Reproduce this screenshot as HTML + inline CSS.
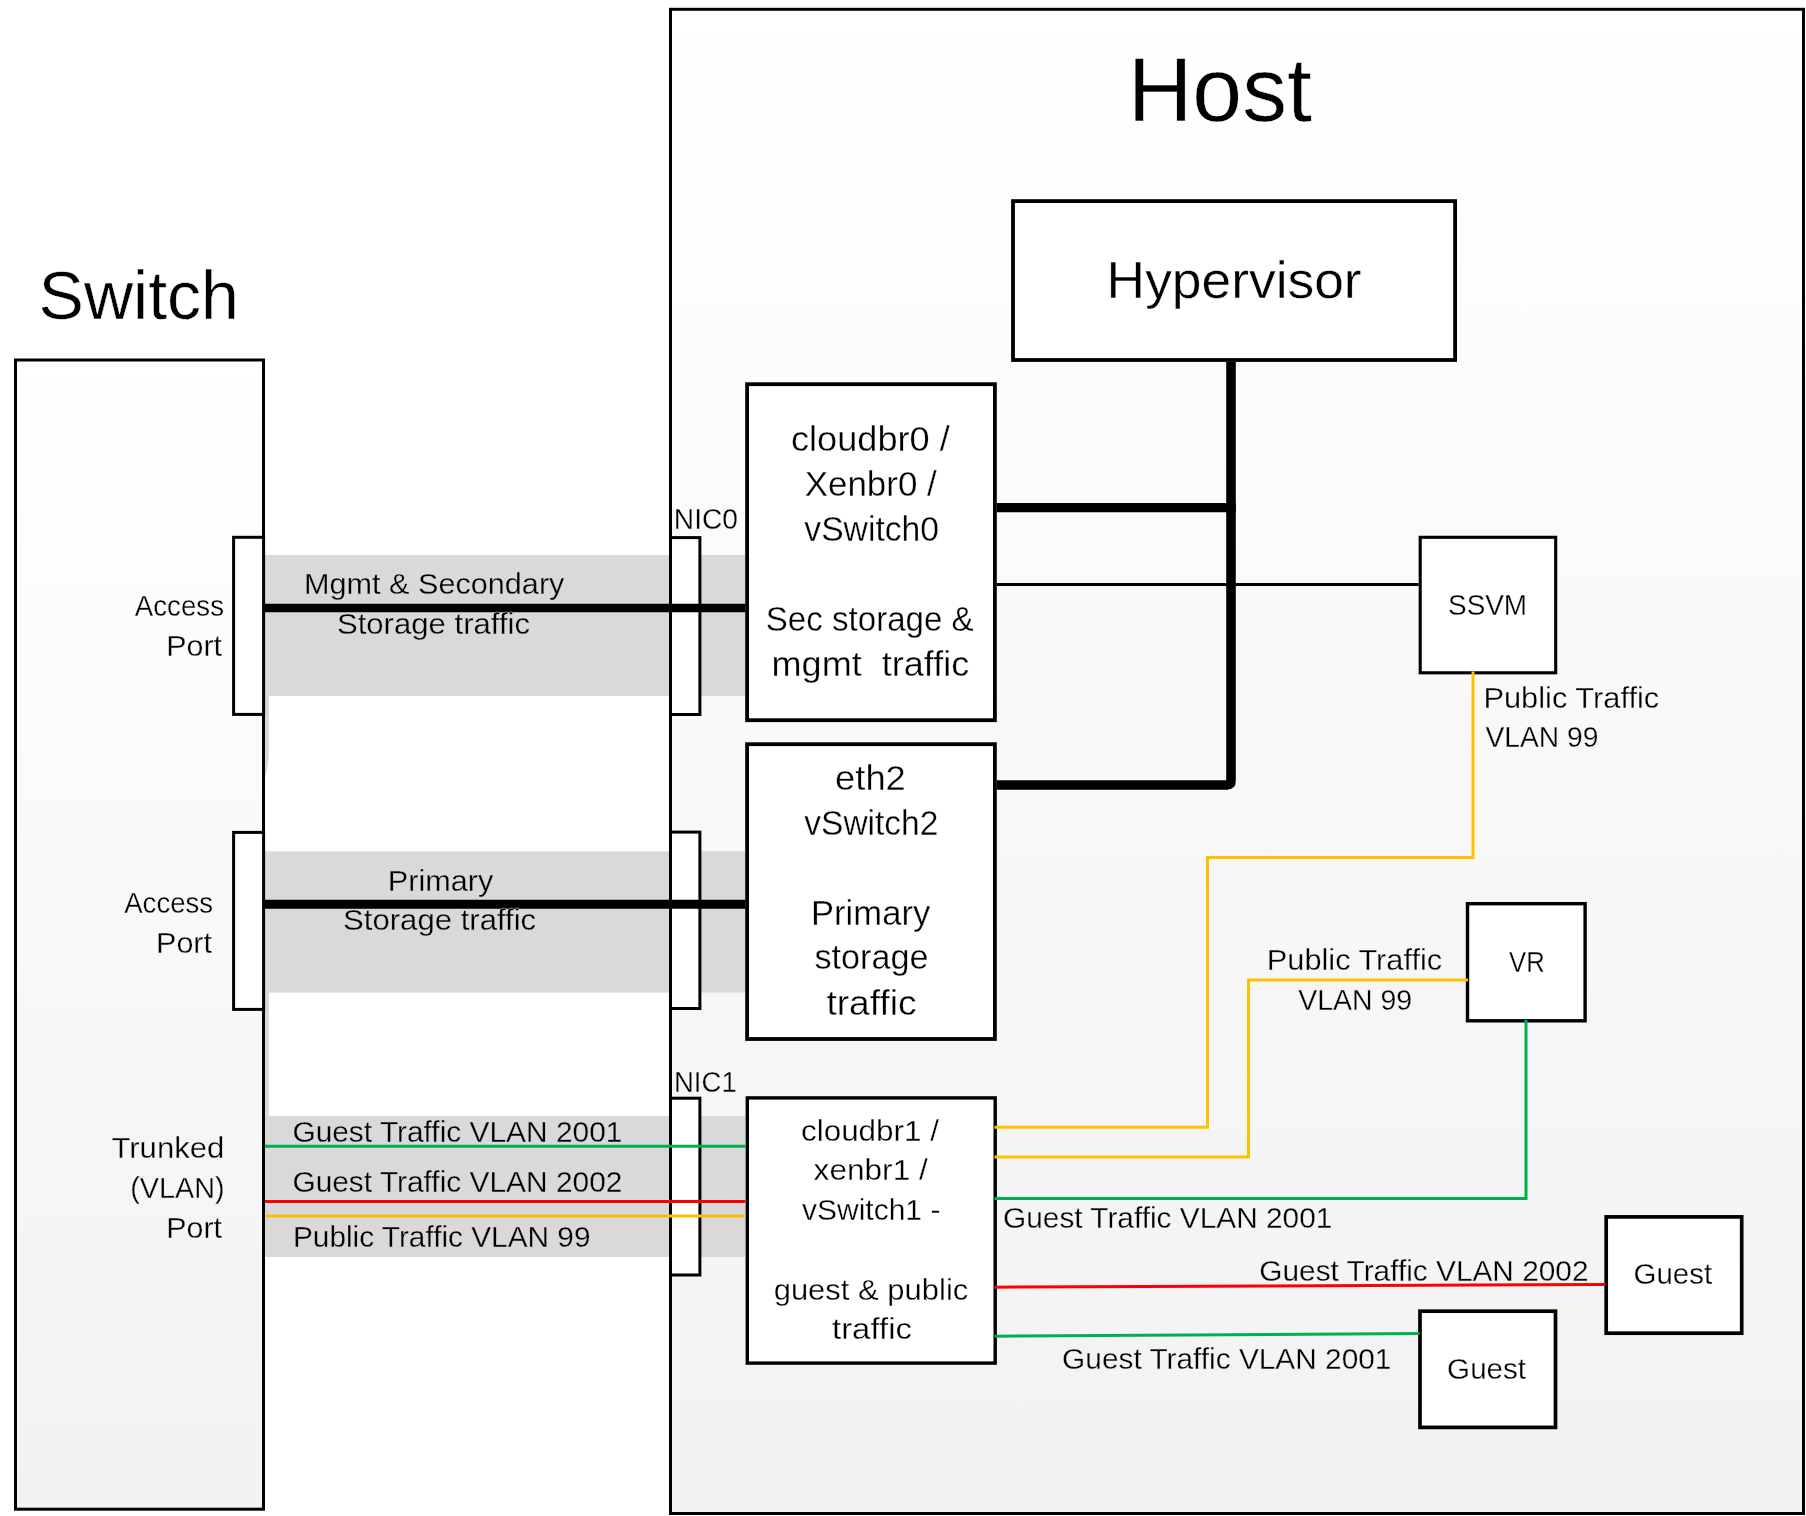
<!DOCTYPE html>
<html><head><meta charset="utf-8"><title>Host Switch diagram</title>
<style>html,body{margin:0;padding:0;background:#fff;width:1806px;height:1516px;overflow:hidden}svg{display:block;will-change:transform}</style>
</head><body>
<svg width="1806" height="1516" viewBox="0 0 1806 1516">
<defs>
<linearGradient id="gs" x1="0" y1="0" x2="0" y2="1"><stop offset="0" stop-color="#ffffff"/><stop offset="1" stop-color="#f2f2f2"/></linearGradient>
<linearGradient id="gh" x1="0" y1="0" x2="0" y2="1"><stop offset="0" stop-color="#ffffff"/><stop offset="1" stop-color="#f2f2f2"/></linearGradient>
</defs>
<rect x="0" y="0" width="1806" height="1516" fill="#fff"/>
<!-- switch -->
<rect x="15.5" y="360" width="248" height="1149.2" fill="url(#gs)" stroke="#000" stroke-width="3"/>
<!-- host -->
<rect x="670.5" y="9.3" width="1133" height="1504.2" fill="url(#gh)" stroke="#000" stroke-width="3"/>
<!-- gray bands -->
<g fill="#d9d9d9">
<rect x="265" y="555" width="480" height="141"/>
<rect x="265" y="851.3" width="480" height="141.3"/>
<rect x="265" y="1116" width="480" height="141"/>
</g>
<path d="M265 696 H269 V752 Q269 765 265 777 Z" fill="#d9d9d9"/>
<rect x="265" y="992" width="4" height="125" fill="#d9d9d9"/>
<!-- ports -->
<g fill="#fff" stroke="#000" stroke-width="3">
<rect x="233.6" y="537.3" width="30" height="177.1"/>
<rect x="233.6" y="832.4" width="30" height="177"/>
<rect x="670.5" y="537.6" width="29.4" height="176.9"/>
<rect x="670.5" y="832.1" width="29.4" height="176.4"/>
<rect x="670.5" y="1098.2" width="29.4" height="176.8"/>
</g>
<!-- boxes -->
<g fill="#fff" stroke="#000">
<rect x="1013" y="201.1" width="442.1" height="158.9" stroke-width="3.8"/>
<rect x="747.1" y="384.2" width="247.8" height="336" stroke-width="3.8"/>
<rect x="747.1" y="744.2" width="247.8" height="294.8" stroke-width="3.8"/>
<rect x="747.3" y="1097.9" width="247.9" height="265.2" stroke-width="3.4"/>
<rect x="1420.2" y="537.3" width="135.5" height="135.5" stroke-width="3.1"/>
<rect x="1467.5" y="903.7" width="117.6" height="117.1" stroke-width="3.4"/>
<rect x="1606.2" y="1216.9" width="135.5" height="116.3" stroke-width="3.7"/>
<rect x="1420" y="1311.2" width="135.5" height="116.2" stroke-width="3.7"/>
</g>
<!-- black connectors -->
<g stroke="#000" fill="none">
<path d="M996.8 785 H1228" stroke-width="9.3" />
<path d="M996.8 507.7 H1235.8" stroke-width="9.2"/>
<path d="M996.8 584.4 H1418.7" stroke-width="3"/>
<path d="M265 608 H745.5" stroke-width="8.6"/>
<path d="M265 904.3 H745.5" stroke-width="9"/>
</g>
<path d="M1226.2 362 H1235.8 V781 Q1235.8 789.6 1227 789.6 H1226.2 Z" fill="#000"/>
<!-- colored -->
<g fill="none" stroke-width="3" stroke-linejoin="miter">
<path d="M265 1146.3 H745.5" stroke="#00b050"/>
<path d="M265 1201.5 H745.5" stroke="#ff0000"/>
<path d="M265 1215.9 H745.5" stroke="#ffc000"/>
<path d="M994.5 1127.2 H1207.5 V857.5 H1473 V671.5" stroke="#ffc000"/>
<path d="M994.5 1157.1 H1248.5 V980 H1468" stroke="#ffc000"/>
<path d="M994.5 1198.4 H1526 V1020" stroke="#00b050"/>
<path d="M994.5 1287.2 L1605.5 1284.5" stroke="#ff0000"/>
<path d="M994.5 1336.2 L1419.5 1333.5" stroke="#00b050"/>
</g>
<g font-family="Liberation Sans" fill="#000">
<text x="1127.69" y="120.90" font-size="91.73" textLength="184.09" lengthAdjust="spacingAndGlyphs" stroke="#fefefe" stroke-width="0.52">Host</text>
<text x="38.55" y="318.80" font-size="69.26" textLength="200.34" lengthAdjust="spacingAndGlyphs" stroke="#fff" stroke-width="0.46">Switch</text>
<text x="1106.63" y="297.70" font-size="52.42" textLength="255.03" lengthAdjust="spacingAndGlyphs" stroke="#fff" stroke-width="0.40">Hypervisor</text>
<text x="673.82" y="528.90" font-size="29.95" textLength="64.13" lengthAdjust="spacingAndGlyphs" stroke="#fbfbfb" stroke-width="0.30">NIC0</text>
<text x="673.96" y="1091.90" font-size="29.95" textLength="62.76" lengthAdjust="spacingAndGlyphs" stroke="#f6f6f6" stroke-width="0.30">NIC1</text>
<text x="134.80" y="615.60" font-size="29.95" textLength="89.19" lengthAdjust="spacingAndGlyphs" stroke="#fcfcfc" stroke-width="0.30">Access</text>
<text x="166.16" y="655.60" font-size="29.95" textLength="55.94" lengthAdjust="spacingAndGlyphs" stroke="#fcfcfc" stroke-width="0.30">Port</text>
<text x="124.20" y="913.00" font-size="29.95" textLength="88.98" lengthAdjust="spacingAndGlyphs" stroke="#f9f9f9" stroke-width="0.30">Access</text>
<text x="156.06" y="953.10" font-size="29.95" textLength="55.94" lengthAdjust="spacingAndGlyphs" stroke="#f8f8f8" stroke-width="0.30">Port</text>
<text x="111.46" y="1157.90" font-size="29.95" textLength="112.82" lengthAdjust="spacingAndGlyphs" stroke="#f6f6f6" stroke-width="0.30">Trunked</text>
<text x="130.18" y="1198.30" font-size="29.95" textLength="94.40" lengthAdjust="spacingAndGlyphs" stroke="#f6f6f6" stroke-width="0.30">(VLAN)</text>
<text x="166.17" y="1237.70" font-size="29.95" textLength="55.84" lengthAdjust="spacingAndGlyphs" stroke="#f5f5f5" stroke-width="0.30">Port</text>
<text x="304.05" y="594.20" font-size="29.95" textLength="260.34" lengthAdjust="spacingAndGlyphs" stroke="#d9d9d9" stroke-width="0.30">Mgmt &amp; Secondary</text>
<text x="336.92" y="634.30" font-size="29.95" textLength="193.14" lengthAdjust="spacingAndGlyphs" stroke="#d9d9d9" stroke-width="0.30">Storage traffic</text>
<text x="387.86" y="890.60" font-size="29.95" textLength="105.37" lengthAdjust="spacingAndGlyphs" stroke="#d9d9d9" stroke-width="0.30">Primary</text>
<text x="343.02" y="930.10" font-size="29.95" textLength="193.14" lengthAdjust="spacingAndGlyphs" stroke="#d9d9d9" stroke-width="0.30">Storage traffic</text>
<text x="292.40" y="1142.30" font-size="29.95" textLength="330.00" lengthAdjust="spacingAndGlyphs" stroke="#d9d9d9" stroke-width="0.30">Guest Traffic VLAN 2001</text>
<text x="292.40" y="1192.10" font-size="29.95" textLength="330.00" lengthAdjust="spacingAndGlyphs" stroke="#d9d9d9" stroke-width="0.30">Guest Traffic VLAN 2002</text>
<text x="293.01" y="1246.90" font-size="29.95" textLength="297.45" lengthAdjust="spacingAndGlyphs" stroke="#d9d9d9" stroke-width="0.30">Public Traffic VLAN 99</text>
<text x="791.03" y="451.20" font-size="34.94" textLength="158.72" lengthAdjust="spacingAndGlyphs" stroke="#fff" stroke-width="0.32">cloudbr0 /</text>
<text x="804.80" y="496.30" font-size="34.94" textLength="131.88" lengthAdjust="spacingAndGlyphs" stroke="#fff" stroke-width="0.32">Xenbr0 /</text>
<text x="804.30" y="540.90" font-size="34.94" textLength="134.75" lengthAdjust="spacingAndGlyphs" stroke="#fff" stroke-width="0.32">vSwitch0</text>
<text x="765.81" y="631.20" font-size="34.94" textLength="207.82" lengthAdjust="spacingAndGlyphs" stroke="#fff" stroke-width="0.32">Sec storage &amp;</text>
<text x="771.54" y="676.00" font-size="34.94" textLength="197.73" lengthAdjust="spacingAndGlyphs" stroke="#fff" stroke-width="0.32">mgmt  traffic</text>
<text x="835.12" y="789.80" font-size="34.94" textLength="70.66" lengthAdjust="spacingAndGlyphs" stroke="#fff" stroke-width="0.32">eth2</text>
<text x="804.30" y="834.60" font-size="34.94" textLength="134.04" lengthAdjust="spacingAndGlyphs" stroke="#fff" stroke-width="0.32">vSwitch2</text>
<text x="811.03" y="925.30" font-size="34.94" textLength="119.21" lengthAdjust="spacingAndGlyphs" stroke="#fff" stroke-width="0.32">Primary</text>
<text x="814.52" y="969.40" font-size="34.94" textLength="113.89" lengthAdjust="spacingAndGlyphs" stroke="#fff" stroke-width="0.32">storage</text>
<text x="826.44" y="1014.70" font-size="34.94" textLength="90.11" lengthAdjust="spacingAndGlyphs" stroke="#fff" stroke-width="0.32">traffic</text>
<text x="800.95" y="1141.00" font-size="29.95" textLength="138.11" lengthAdjust="spacingAndGlyphs" stroke="#fff" stroke-width="0.30">cloudbr1 /</text>
<text x="813.64" y="1179.60" font-size="29.95" textLength="114.15" lengthAdjust="spacingAndGlyphs" stroke="#fff" stroke-width="0.30">xenbr1 /</text>
<text x="802.00" y="1219.50" font-size="29.95" textLength="138.40" lengthAdjust="spacingAndGlyphs" stroke="#fff" stroke-width="0.30">vSwitch1 -</text>
<text x="773.67" y="1299.80" font-size="29.95" textLength="194.63" lengthAdjust="spacingAndGlyphs" stroke="#fff" stroke-width="0.30">guest &amp; public</text>
<text x="832.00" y="1339.40" font-size="29.95" textLength="79.92" lengthAdjust="spacingAndGlyphs" stroke="#fff" stroke-width="0.30">traffic</text>
<text x="1448.04" y="615.00" font-size="29.95" textLength="79.08" lengthAdjust="spacingAndGlyphs" stroke="#fff" stroke-width="0.30">SSVM</text>
<text x="1483.44" y="708.10" font-size="29.95" textLength="175.81" lengthAdjust="spacingAndGlyphs" stroke="#f9f9f9" stroke-width="0.30">Public Traffic</text>
<text x="1485.50" y="747.20" font-size="29.95" textLength="112.88" lengthAdjust="spacingAndGlyphs" stroke="#f9f9f9" stroke-width="0.30">VLAN 99</text>
<text x="1266.85" y="969.70" font-size="29.95" textLength="175.30" lengthAdjust="spacingAndGlyphs" stroke="#f7f7f7" stroke-width="0.30">Public Traffic</text>
<text x="1298.20" y="1009.60" font-size="29.95" textLength="113.99" lengthAdjust="spacingAndGlyphs" stroke="#f6f6f6" stroke-width="0.30">VLAN 99</text>
<text x="1509.10" y="971.70" font-size="29.95" textLength="35.67" lengthAdjust="spacingAndGlyphs" stroke="#fff" stroke-width="0.30">VR</text>
<text x="1003.01" y="1227.90" font-size="29.95" textLength="329.40" lengthAdjust="spacingAndGlyphs" stroke="#f5f5f5" stroke-width="0.30">Guest Traffic VLAN 2001</text>
<text x="1259.31" y="1280.50" font-size="29.95" textLength="329.19" lengthAdjust="spacingAndGlyphs" stroke="#f4f4f4" stroke-width="0.30">Guest Traffic VLAN 2002</text>
<text x="1062.11" y="1369.40" font-size="29.95" textLength="329.30" lengthAdjust="spacingAndGlyphs" stroke="#f3f3f3" stroke-width="0.30">Guest Traffic VLAN 2001</text>
<text x="1633.53" y="1284.20" font-size="29.95" textLength="78.65" lengthAdjust="spacingAndGlyphs" stroke="#fff" stroke-width="0.30">Guest</text>
<text x="1447.12" y="1378.50" font-size="29.95" textLength="78.95" lengthAdjust="spacingAndGlyphs" stroke="#fff" stroke-width="0.30">Guest</text>
</g>
</svg>
</body></html>
